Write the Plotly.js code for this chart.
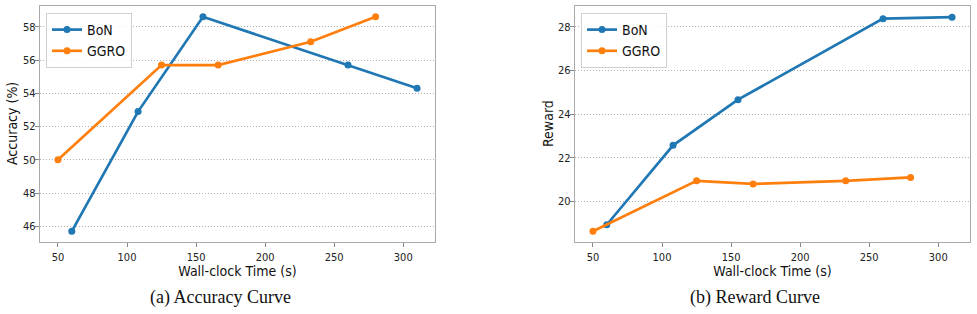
<!DOCTYPE html>
<html>
<head>
<meta charset="utf-8">
<script src="https://cdn.plot.ly/plotly-3.0.1.min.js"></script>
<style>
  html, body { margin: 0; padding: 0; background: #fff; }
  #chart { width: 977px; height: 314px; }
</style>
</head>
<body>
<div id="chart"></div>
<script>
// Wall-clock time (s) per run
const bonTime  = [60, 108, 155, 260, 310];
const ggroTime = [50, 125, 166, 233, 280];

// Accuracy (%)
const bonAcc  = [45.7, 52.9, 58.6, 55.7, 54.3];
const ggroAcc = [50.0, 55.7, 55.7, 57.1, 58.6];

// Reward
const bonReward  = [18.93, 22.57, 24.66, 28.37, 28.44];
const ggroReward = [18.63, 20.94, 20.80, 20.94, 21.10];

const xTicks = [50, 100, 150, 200, 250, 300];
const accTicks = [46, 48, 50, 52, 54, 56, 58];
const rewardTicks = [20, 22, 24, 26, 28];

const BLUE = '#1f77b4';
const ORANGE = '#ff7f0e';
const W = 977, H = 314;
const SANS = 'DejaVu Sans Condensed, DejaVu Sans, sans-serif';

function series(x, y, name, color, xa, ya, legend) {
  return {
    x: x, y: y, name: name, type: 'scatter', mode: 'lines+markers',
    xaxis: xa, yaxis: ya, legend: legend,
    line: { color: color, width: 2.7 },
    marker: { color: color, size: 7 }
  };
}

const data = [
  series(bonTime, bonAcc, 'BoN', BLUE, 'x', 'y', 'legend'),
  series(ggroTime, ggroAcc, 'GGRO', ORANGE, 'x', 'y', 'legend'),
  series(bonTime, bonReward, 'BoN', BLUE, 'x2', 'y2', 'legend2'),
  series(ggroTime, ggroReward, 'GGRO', ORANGE, 'x2', 'y2', 'legend2')
];

const tickFont = { family: SANS, size: 11, color: '#222' };
const titleFont = { family: SANS, size: 14, color: '#111' };

function xAxis(domain, anchor) {
  return {
    domain: domain, anchor: anchor, range: [37, 323],
    tickvals: xTicks, ticks: 'outside', ticklen: 4, tickcolor: '#888',
    showline: true, linecolor: '#aaaaaa', linewidth: 1.3, mirror: true,
    showgrid: false, zeroline: false, tickfont: tickFont,
    title: { text: 'Wall-clock Time (s)', font: titleFont, standoff: 3 }
  };
}
function yAxis(domain, anchor, range, ticks) {
  return {
    domain: domain, anchor: anchor, range: range,
    tickvals: ticks, ticks: 'outside', ticklen: 4, tickcolor: '#888',
    ticklabelstandoff: -3,
    showline: true, linecolor: '#aaaaaa', linewidth: 1.3, mirror: true,
    showgrid: true, gridcolor: '#b0b0b0', griddash: '1px,2px', gridwidth: 1,
    zeroline: false, tickfont: tickFont
  };
}

const yDom = [1 - 242 / H, 1 - 6 / H];
const yMid = 1 - 124 / H;

function legendBox(xpx) {
  return {
    x: xpx / W, y: 1 - 13 / H, xanchor: 'left', yanchor: 'top',
    bgcolor: 'rgba(255,255,255,0.85)', bordercolor: '#d0d0d0', borderwidth: 1,
    font: { family: SANS, size: 14, color: '#111' },
    itemwidth: 30, tracegroupgap: 0
  };
}

// Vertical y-axis labels placed beside each panel's tick labels
function yLabel(text, xpx) {
  return {
    text: text, x: xpx / W, y: yMid, xref: 'paper', yref: 'paper',
    showarrow: false, textangle: -90, xanchor: 'center', yanchor: 'middle',
    font: titleFont
  };
}
function caption(text, xpx) {
  return {
    text: text, x: xpx / W, y: 1 - 297 / H, xref: 'paper', yref: 'paper',
    showarrow: false, xanchor: 'center', yanchor: 'middle',
    font: { family: 'Liberation Serif', size: 18, color: '#111' }
  };
}

const layout = {
  width: W, height: H,
  margin: { l: 0, r: 0, t: 0, b: 0 },
  paper_bgcolor: '#fff', plot_bgcolor: '#fff',
  showlegend: true,
  xaxis: xAxis([40 / W, 435 / W], 'y'),
  yaxis: yAxis(yDom, 'x', [45.06, 59.25], accTicks),
  xaxis2: xAxis([575 / W, 970 / W], 'y2'),
  yaxis2: yAxis(yDom, 'x2', [18.14, 28.95], rewardTicks),
  legend: legendBox(46),
  legend2: legendBox(581),
  annotations: [
    yLabel('Accuracy (%)', 12),
    yLabel('Reward', 548),
    caption('(a) Accuracy Curve', 220),
    caption('(b) Reward Curve', 755)
  ]
};

Plotly.newPlot('chart', data, layout, { displayModeBar: false, staticPlot: true });
</script>
</body>
</html>
